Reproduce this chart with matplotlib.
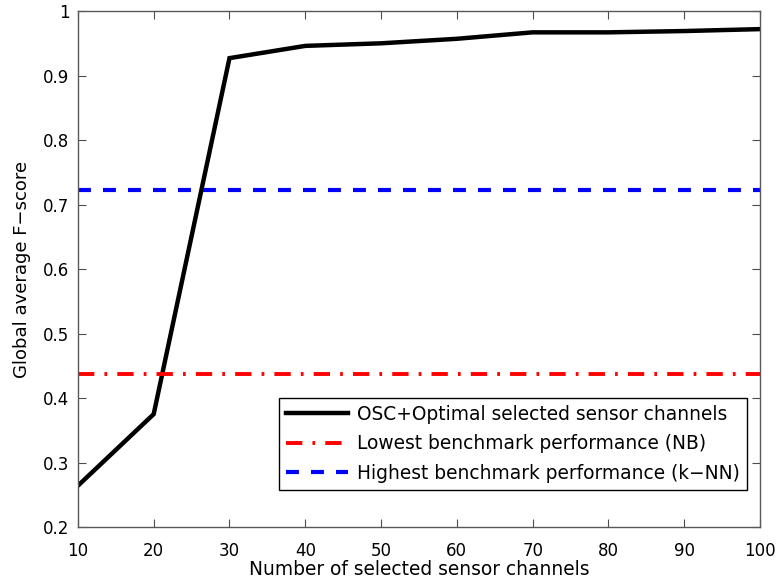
import numpy as np
import matplotlib
matplotlib.use("Agg")
import matplotlib.pyplot as plt

plt.rcParams['font.family'] = ['DejaVu Sans']

# data
channels = [10, 20, 30, 40, 50, 60, 70, 80, 90, 100]
fscore_osc = [0.264, 0.375, 0.927, 0.946, 0.950, 0.957, 0.967, 0.967, 0.969, 0.972]
lowest_nb = 0.437
highest_knn = 0.722

label_osc = "OSC+Optimal selected sensor channels"
label_nb = "Lowest benchmark performance (NB)"
label_knn = "Highest benchmark performance (k\u2212NN)"

fig = plt.figure(figsize=(7.79, 5.82), dpi=100)
ax = fig.add_subplot(111)
fig.subplots_adjust(left=0.1, right=0.9756, top=0.981, bottom=0.0945)

ax.plot(channels, fscore_osc, color='black', lw=3.2, label=label_osc, solid_joinstyle='miter')
ax.plot([channels[0], channels[-1]], [lowest_nb, lowest_nb], color='red', lw=2.8,
        dashes=(4.2, 2.6, 0.7, 2.6), label=label_nb)
ax.plot([channels[0], channels[-1]], [highest_knn, highest_knn], color='blue', lw=3,
        dashes=(3.1, 2.9), label=label_knn)

ax.set_xlim(10, 100)
ax.set_ylim(0.2, 1.0)
ax.set_xticks(np.arange(10, 101, 10))
ax.set_yticks(np.arange(0.2, 1.01, 0.1))
ax.set_yticklabels(['0.2', '0.3', '0.4', '0.5', '0.6', '0.7', '0.8', '0.9', '1'])

for s in ax.spines.values():
    s.set_color('0.35')
    s.set_linewidth(1.0)
ax.tick_params(direction='in', length=6, width=0.8, color='0.3', top=True, right=True,
               labelsize=12)
ax.tick_params(axis='x', pad=11)
ax.tick_params(axis='y', pad=6)

ax.set_xlabel("Number of selected sensor channels", fontsize=13.4, labelpad=0)
ax.set_ylabel("Global average F\u2212score", fontsize=13, labelpad=9)

leg = ax.legend(loc='lower right', bbox_to_anchor=(0.981, 0.072), borderaxespad=0,
                fontsize=13.4, fancybox=False, framealpha=1, edgecolor='black',
                handlelength=3.3, handletextpad=0.5, labelspacing=0.56, borderpad=0.38)
leg.get_frame().set_linewidth(1.0)

fig.savefig("out.png", dpi=100)
